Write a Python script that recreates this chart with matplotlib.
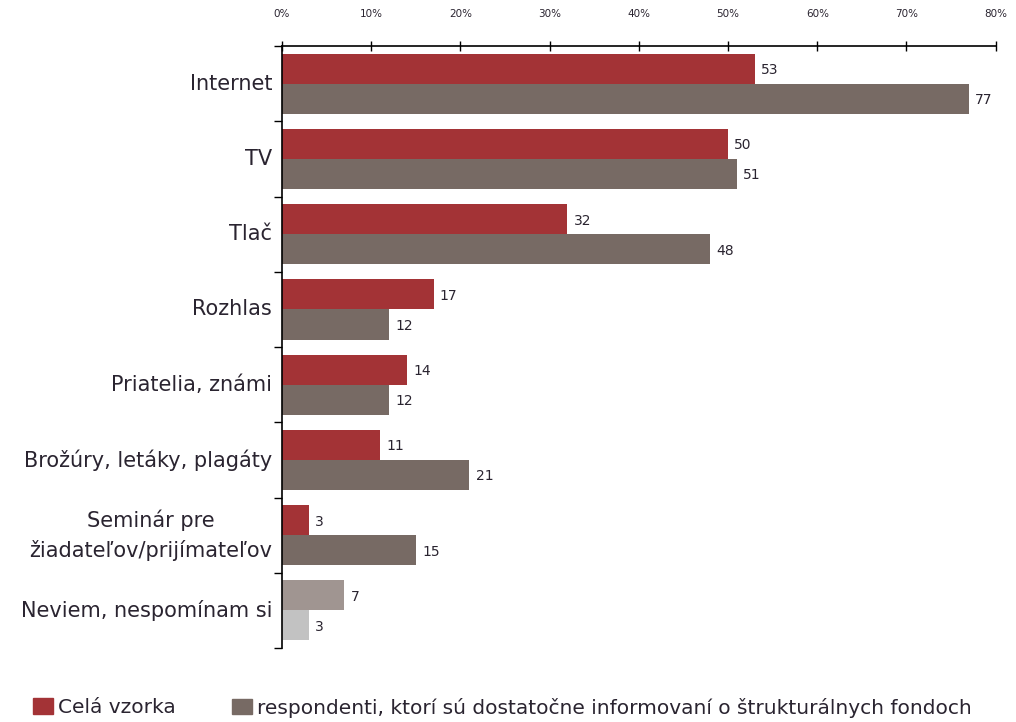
import numpy as np
import matplotlib.pyplot as plt
from matplotlib.patches import Patch

categories = ["Internet", "TV", "Tlač", "Rozhlas", "Priatelia, známi",
              "Brožúry, letáky, plagáty", "Seminár pre\nžiadateľov/prijímateľov",
              "Neviem, nespomínam si"]
cela_vzorka = [53, 50, 32, 17, 14, 11, 3, 7]
informovani = [77, 51, 48, 12, 12, 21, 15, 3]
x_ticks = [0, 10, 20, 30, 40, 50, 60, 70, 80]

red = "#a33336"
gray = "#776a64"
red_light = "#a09591"
gray_light = "#c2c2c2"
text_col = "#2a2430"

plt.rcParams["font.family"] = ["DejaVu Sans"]

fig = plt.figure(figsize=(10.16, 7.22), dpi=100)
ax = fig.add_axes([0.2776, 0.1025, 0.7024, 0.8337])

n = len(categories)
y = np.arange(n)
h = 0.4
red_colors = [red] * (n - 1) + [red_light]
gray_colors = [gray] * (n - 1) + [gray_light]

bars1 = ax.barh(y - h / 2, cela_vzorka, height=h, color=red_colors)
bars2 = ax.barh(y + h / 2, informovani, height=h, color=gray_colors)

# value labels
for bars, vals in ((bars1, cela_vzorka), (bars2, informovani)):
    for b, v in zip(bars, vals):
        ax.text(b.get_width() + 0.7, b.get_y() + b.get_height() / 2 + 0.02, str(v),
                va="center", ha="left", fontsize=10, color=text_col)

ax.set_xlim(0, 80)
ax.set_ylim(n - 0.5, -0.5)
ax.xaxis.tick_top()
ax.set_xticks(x_ticks)
ax.set_xticklabels([f"{t}%" for t in x_ticks], fontsize=7.5, color=text_col)
ax.tick_params(axis="x", direction="inout", length=7, width=1, pad=16)

# category labels centered, boundaries as ticks
ax.set_yticks(np.arange(n + 1) - 0.5)
ax.set_yticklabels([])
ax.tick_params(axis="y", direction="out", length=6, width=1)
for i, c in enumerate(categories):
    ax.text(-1.1, i, c, ha="right", va="center", fontsize=15,
            multialignment="center", color=text_col, linespacing=1.5)

for s in ["right", "bottom"]:
    ax.spines[s].set_visible(False)
ax.spines["top"].set_linewidth(1.2)
ax.spines["left"].set_linewidth(1.2)

leg_kw = dict(loc="center left", frameon=False, fontsize=14.5, handlelength=1,
              handleheight=0.8, handletextpad=0.25, borderpad=0, borderaxespad=0,
              labelcolor=text_col)
fig.legend(handles=[Patch(color=red, label="Celá vzorka")],
           bbox_to_anchor=(0.032, 0.02), **leg_kw)
fig.legend(handles=[Patch(color=gray, label="respondenti, ktorí sú dostatočne informovaní o štrukturálnych fondoch")],
           bbox_to_anchor=(0.228, 0.02), **leg_kw)

plt.savefig("out.png", dpi=100)
